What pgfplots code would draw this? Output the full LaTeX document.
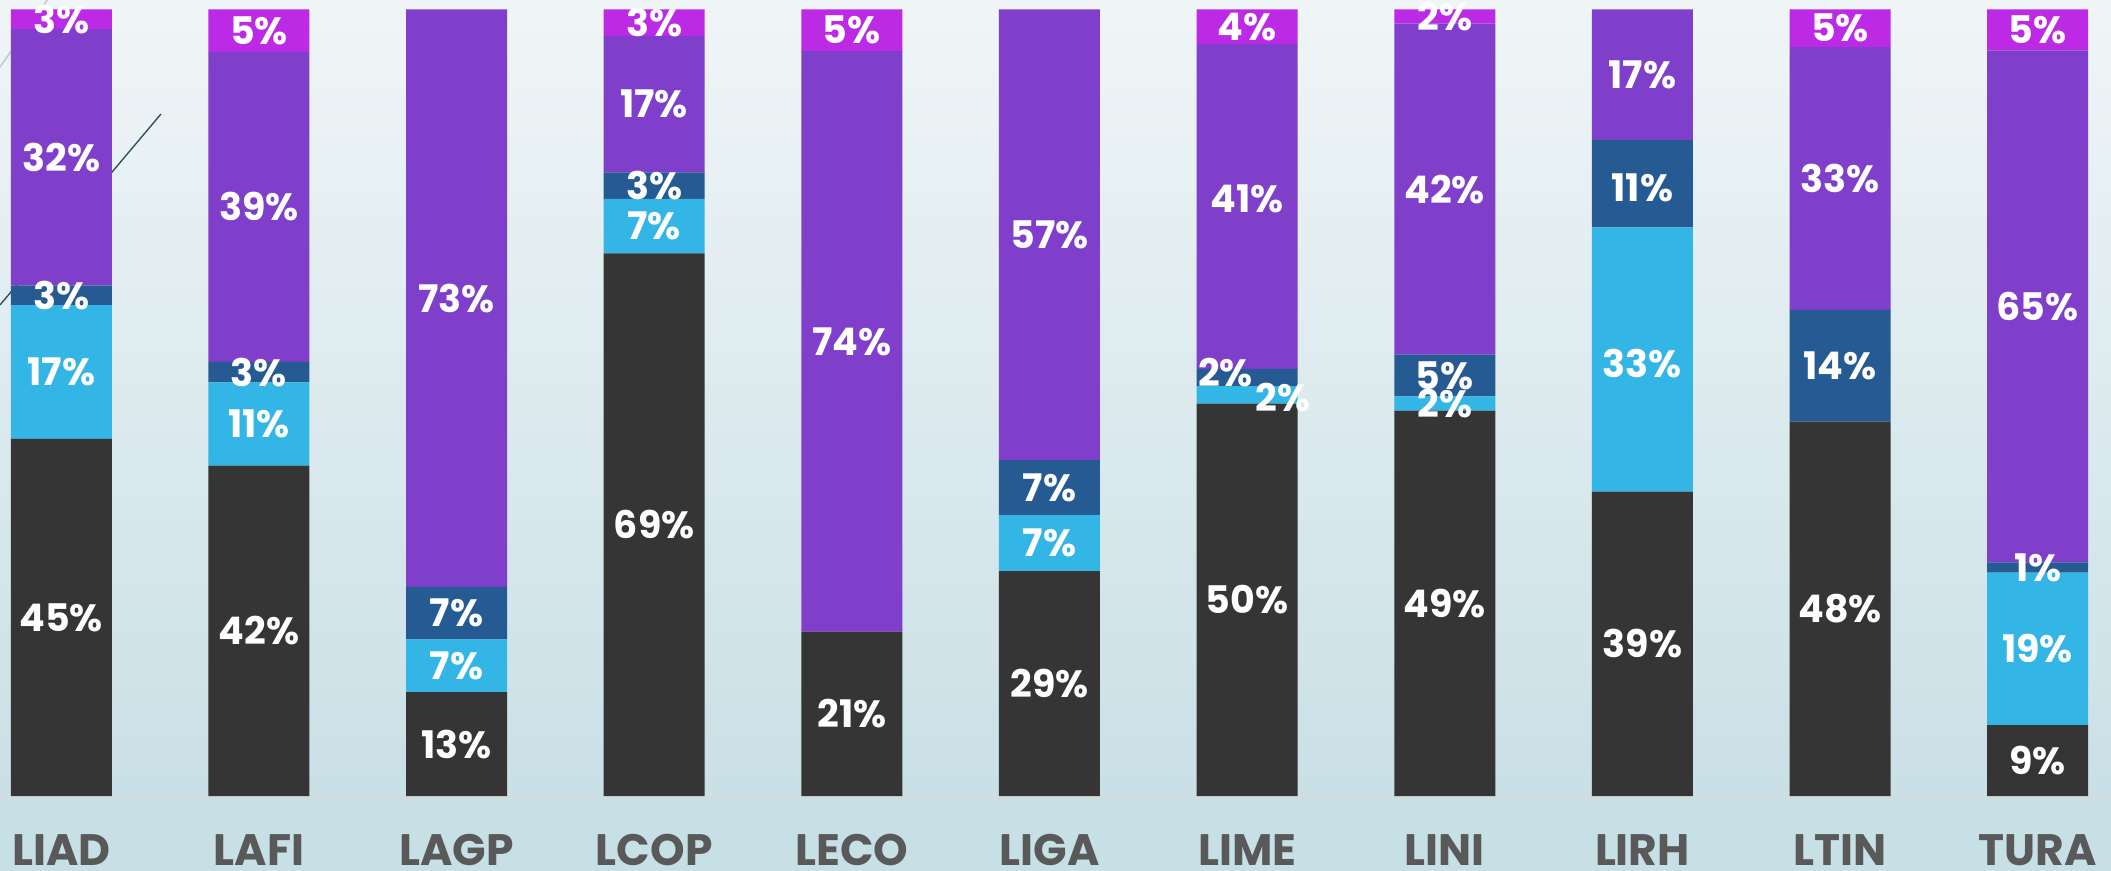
\documentclass[border=0pt]{standalone}
\usepackage{fontspec}
\setmainfont{Poppins}
\usepackage{pgfplots}
\pgfplotsset{compat=1.18}
\usepackage{pgfplotstable}

\definecolor{cBlack}{HTML}{353535}
\definecolor{cLBlue}{HTML}{33B5E5}
\definecolor{cDBlue}{HTML}{265A92}
\definecolor{cPurple}{HTML}{7F3FCB}
\definecolor{cMagenta}{HTML}{BC2AE6}
\definecolor{bgTop}{HTML}{F0F5F7}
\definecolor{bgBot}{HTML}{C9E0E6}
\definecolor{bgStrip}{HTML}{C6E0E6}
\definecolor{baseGrey}{HTML}{D9D9D9}
\definecolor{catGrey}{HTML}{595959}
\definecolor{decoDark}{HTML}{2F5364}
\definecolor{decoLight}{HTML}{C3CDD2}

\pgfplotstableread{
x black lblue dblue purple magenta
0  45.4 17.0  2.5 32.6 2.5
1  42.0 10.6  2.6 39.4 5.4
2  13.2  6.7  6.7 73.4 0
3  69.0  6.9  3.4 17.3 3.4
4  20.9  0    0   73.8 5.3
5  28.6  7.1  7.0 57.3 0
6  49.9  2.2  2.2 41.3 4.4
7  49.0  1.8  5.3 42.1 1.8
8  38.7 33.6 11.1 16.6 0
9  47.6  0   14.2 33.4 4.8
10  9.0 19.4  1.3 65.1 5.2
}\bars

\pgfplotstableread{
x y t
0 22.7 45
0 53.9 17
0 63.65 3
0 81.2 32
0 98.75 3
1 21.0 42
1 47.3 11
1 53.9 3
1 74.9 39
1 97.3 5
2 6.6 13
2 16.55 7
2 23.25 7
2 63.3 73
3 34.5 69
3 72.45 7
3 77.6 3
3 87.95 17
3 98.3 3
4 10.45 21
4 57.8 74
4 97.35 5
5 14.3 29
5 32.15 7
5 39.2 7
5 71.35 57
6 24.95 50
6.18 50.7 2
5.89 53.8 2
6 75.95 41
6 97.8 4
7 24.5 49
7 53.45 5
7 49.9 2
7 77.15 42
7 99.1 2
8 19.35 39
8 55.0 33
8 77.35 11
8 91.7 17
9 23.8 48
9 54.7 14
9 78.5 33
9 97.6 5
10 4.5 9
10 18.7 19
10 29.05 1
10 62.25 65
10 97.4 5
}\labels

\begin{document}
\begin{tikzpicture}
\useasboundingbox (0,0) rectangle (1055.5pt,435.5pt);
\begin{scope}[x=0.5pt,y=-0.5pt,yshift=435.5pt]
  \shade[top color=bgTop, bottom color=bgBot] (0,0) rectangle (2111,796);
  \fill[bgStrip] (0,796) rectangle (2111,871);
  \draw[baseGrey, line width=1pt] (0,797) -- (2111,797);
  \draw[decoLight, line width=0.9pt] (0,67) -- (50,-4);
  \draw[decoDark, line width=0.7pt] (0,305) -- (161,114);
\end{scope}
\begin{axis}[
  at={(0,0)}, anchor=south west,
  width=1055.5pt, height=435.5pt, scale only axis,
  xmin=-0.310, xmax=10.371, ymin=-9.53, ymax=101.2,
  enlargelimits=false,
  ybar stacked, bar width=0.511,
  axis line style={draw=none},
  major tick length=0pt,
  ytick=\empty,
  xtick={0,...,10},
  xticklabels={LIAD,LAFI,LAGP,LCOP,LECO,LIGA,LIME,LINI,LIRH,LTIN,TURA},
  xticklabel style={anchor=base, inner sep=0pt, yshift=2.5pt,
    font=\fontsize{22}{22}\selectfont\bfseries, text=catGrey},
]
\addplot[fill=cBlack, draw=none] table[x=x,y=black]{\bars};
\addplot[fill=cLBlue, draw=none] table[x=x,y=lblue]{\bars};
\addplot[fill=cDBlue, draw=none] table[x=x,y=dblue]{\bars};
\addplot[fill=cPurple, draw=none] table[x=x,y=purple]{\bars};
\addplot[fill=cMagenta, draw=none] table[x=x,y=magenta]{\bars};
\end{axis}
\begin{axis}[
  at={(0,0)}, anchor=south west,
  width=1055.5pt, height=435.5pt, scale only axis,
  xmin=-0.310, xmax=10.371, ymin=-9.53, ymax=101.2,
  enlargelimits=false, hide axis, clip=false,
]
\addplot[only marks, mark=*, mark size=0pt,
  mark options={draw=none, fill=none, opacity=0},
  point meta=explicit symbolic,
  nodes near coords={\pgfplotspointmeta\%},
  nodes near coords align={center},
  every node near coord/.append style={anchor=center, inner sep=0pt,
    opacity=1, font=\fontsize{19}{19}\selectfont\bfseries, text=white}]
  table[x=x,y=y,meta=t]{\labels};
\end{axis}
\end{tikzpicture}
\end{document}
